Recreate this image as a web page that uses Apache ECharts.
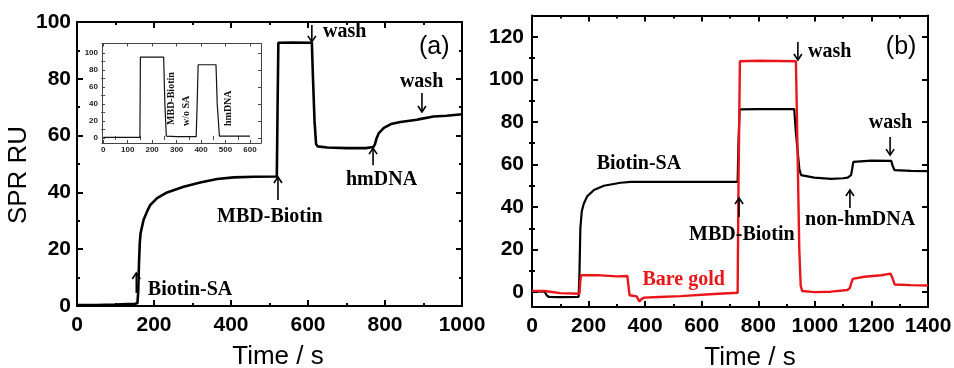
<!DOCTYPE html>
<html><head><meta charset="utf-8">
<script src="https://cdn.jsdelivr.net/npm/echarts@6/dist/echarts.min.js"></script>
<style>html,body{margin:0;padding:0;background:#fff}#c{width:954px;height:368px}</style>
</head><body><div id="c"></div>
<script>
// ---------- data ----------
// Panel (a): main sensorgram
const aTime   = [0,50,100,150,157,159,161,163,165,169,173,182,190,208,234,277,320,364,407,460,519,521,523,560,610,613,617,621,625,650,700,750,770,774,778,784,797,818,840,883,890,895,926,960,1000];
const aSignal = [0.3,0.3,0.5,0.8,1.0,5,15,22,25.5,28,30.4,33.3,35.5,38,40,42,43.5,44.7,45.3,45.5,45.6,70,92.7,92.8,92.7,80,65,57,56.2,55.8,55.6,55.6,56,57,59,60.9,62.7,64.2,64.8,65.6,65.8,66.3,66.7,67,67.5];
// Panel (a) inset: MBD-Biotin w/o SA, hmDNA
const insetTime   = [0,150,152,247,252,258,300,380,384,388,461,466,475,600];
const insetSignal = [0.5,0.5,95,95,40,2,1.5,1.5,40,86,86,40,2,2];
// Panel (b): Biotin-SA surface (black)
const bTimeSA = [0,45,52,60,100,165,168,171,176,183,195,219,254,313,349,500,727,730,734,800,927,933,945,951,998,1057,1100,1116,1128,1132,1136,1200,1270,1276,1282,1340,1400];
const bSA     = [0.3,0.2,-1.5,-2.3,-2.4,-2.2,10,30,38,41.5,45,48,50,51.4,51.8,51.8,51.8,70,85.9,86,86,75,58,55,53.8,53.2,53.5,53.8,55,58,61.2,61.8,61.7,59,57.3,57,56.9];
// Panel (b): bare gold (red)
const bTimeGold = [0,45,50,100,168,170,173,230,236,300,337,341,345,370,380,385,396,450,526,644,727,730,735,800,933,937,945,950,955,998,1057,1116,1124,1128,1134,1175,1235,1268,1272,1276,1282,1340,1400];
const bGold     = [0.6,0.5,-0.3,-0.5,-0.8,4,7.9,8,7.4,7.4,7.6,3,-1.5,-2,-4.5,-3.5,-2.6,-2.3,-1.9,-0.9,-0.3,50,108.5,108.7,108.5,80,20,3,0.5,0,0.2,1.0,2,4,6.2,7.2,7.9,8.7,8,6,3.6,3.3,3.1];
// tick values
const bYTicks = [0,20,40,60,80,100,120];
const bYMinor = [10,30,50,70,90,110];
const insetXTicks = [0,100,200,300,400,500,600];
const insetXMinor = [50,150,250,350,450,550];
const insetYTicks = [0,20,40,60,80,100];
const insetYMinor = [10,30,50,70,90];
// annotations (data coordinates)
const notesA = [
  {text:'wash', x:639, y:96.5, align:'left'},
  {text:'(a)', x:928, y:91.2, sans:true},
  {text:'wash', x:895, y:78.9},
  {text:'hmDNA', x:791, y:44.4},
  {text:'MBD-Biotin', x:501, y:31.3},
  {text:'Biotin-SA', x:184, y:5.6, align:'left'}
];
const arrowsA = [
  {x:610, tail:98.9, tip:93},
  {x:896, tail:75, tip:68.3},
  {x:769, tail:49.6, tip:55.6},
  {x:522, tail:37.3, tip:45.4},
  {x:154, tail:4.6, tip:11.6}
];
const notesB = [
  {text:'wash', x:976, y:112.8, align:'left'},
  {text:'(b)', x:1305, y:115.2, sans:true},
  {text:'wash', x:1267, y:79.5},
  {text:'Biotin-SA', x:378, y:60.2},
  {text:'non-hmDNA', x:1160, y:33.9},
  {text:'MBD-Biotin', x:742, y:26.8},
  {text:'Bare gold', x:536, y:5.7, red:true}
];
const arrowsB = [
  {x:940, tail:117.5, tip:109.1},
  {x:1266, tail:72.9, tip:64.4},
  {x:1124, tail:39.5, tip:48},
  {x:732, tail:35.3, tip:44.2}
];
const notesInset = [
  {text:'MBD-Biotin', x:280, y:15.2},
  {text:'w/o SA', x:341, y:14},
  {text:'hmDNA', x:511, y:14}
];

// ---------- chart ----------
const RED = '#e8161b';
const zip = (xs, ys) => xs.map((x, i) => [x, ys[i]]);
const plain = v => String(v);
const lab = {fontFamily:'Liberation Sans', fontWeight:'bold', fontSize:21, color:'#000', formatter:plain};
const inLab = {fontFamily:'Liberation Sans', fontWeight:'bold', fontSize:8, color:'#222', formatter:plain};
const nameStyle = {fontFamily:'Liberation Sans', fontSize:26, color:'#000'};
function mainAxis(o) {
  return Object.assign({
    type:'value', splitLine:{show:false},
    axisLine:{show:true, onZero:false, lineStyle:{color:'#000', width:2}},
    axisTick:{show:true, inside:true, length:6, lineStyle:{color:'#000', width:2}},
    minorTick:{show:true, splitNumber:2, length:3, lineStyle:{color:'#000', width:2}},
    axisLabel:{show:false}
  }, o);
}
function custAxis(o, ticks, len, w, color, showLabels, labStyle, margin) {
  return Object.assign({
    type:'value', splitLine:{show:false},
    axisLine:{show:true, onZero:false, lineStyle:{color:color, width:w}},
    axisTick:{show:true, inside:true, length:len, customValues:ticks, lineStyle:{color:color, width:w}},
    axisLabel: showLabels ? Object.assign({show:true, customValues:ticks, margin:margin}, labStyle) : {show:false}
  }, o);
}

const option = {
  animation:false,
  backgroundColor:'#fff',
  grid:[
    {left:77, top:22, width:385, height:284, outerBoundsMode:'none', containLabel:false},
    {left:102, top:43.5, width:159, height:99.5, outerBoundsMode:'none', containLabel:false},
    {left:532, top:15.5, width:396, height:291.5, outerBoundsMode:'none', containLabel:false}
  ],
  xAxis:[
    mainAxis({gridIndex:0, position:'bottom', min:0, max:1000, interval:200,
      axisLabel:Object.assign({show:true, margin:9}, lab),
      name:'Time / s', nameLocation:'middle', nameGap:38, nameTextStyle:Object.assign({padding:[0,0,0,17]}, nameStyle)}),
    mainAxis({gridIndex:0, position:'top', min:0, max:1000, interval:200}),
    custAxis({gridIndex:1, position:'bottom', min:-5, max:645}, insetXTicks, 3, 1, '#444', true, inLab, 3),
    custAxis({gridIndex:1, position:'top', min:-5, max:645}, insetXTicks, 3, 1, '#444', false),
    custAxis({gridIndex:1, position:'bottom', min:-5, max:645, axisLine:{show:false}}, insetXMinor, 2, 1, '#444', false),
    custAxis({gridIndex:1, position:'top', min:-5, max:645, axisLine:{show:false}}, insetXMinor, 2, 1, '#444', false),
    mainAxis({gridIndex:2, position:'bottom', min:0, max:1400, interval:200,
      axisLabel:Object.assign({show:true, margin:9}, lab),
      name:'Time / s', nameLocation:'middle', nameGap:38, nameTextStyle:Object.assign({padding:[0,0,0,40]}, nameStyle)}),
    mainAxis({gridIndex:2, position:'top', min:0, max:1400, interval:200})
  ],
  yAxis:[
    mainAxis({gridIndex:0, position:'left', min:0, max:100, interval:20,
      axisLabel:Object.assign({show:true, margin:6}, lab),
      name:'SPR RU', nameLocation:'middle', nameGap:34, nameTextStyle:Object.assign({padding:[0,22,0,0]}, nameStyle)}),
    mainAxis({gridIndex:0, position:'right', min:0, max:100, interval:20}),
    custAxis({gridIndex:1, position:'left', min:-6, max:111}, insetYTicks, 3, 1, '#444', true, inLab, 4),
    custAxis({gridIndex:1, position:'right', min:-6, max:111}, insetYTicks, 3, 1, '#444', false),
    custAxis({gridIndex:1, position:'left', min:-6, max:111, axisLine:{show:false}}, insetYMinor, 2, 1, '#444', false),
    custAxis({gridIndex:1, position:'right', min:-6, max:111, axisLine:{show:false}}, insetYMinor, 2, 1, '#444', false),
    custAxis({gridIndex:2, position:'left', min:-7, max:130}, bYTicks, 6, 2, '#000', true, lab, 8),
    custAxis({gridIndex:2, position:'right', min:-7, max:130}, bYTicks, 6, 2, '#000', false),
    custAxis({gridIndex:2, position:'left', min:-7, max:130, axisLine:{show:false}}, bYMinor, 3, 2, '#000', false),
    custAxis({gridIndex:2, position:'right', min:-7, max:130, axisLine:{show:false}}, bYMinor, 3, 2, '#000', false)
  ],
  series:[
    {type:'line', xAxisIndex:0, yAxisIndex:0, data:zip(aTime, aSignal), showSymbol:false, smooth:false,
      lineStyle:{color:'#000', width:2.6}, z:3},
    {type:'line', xAxisIndex:2, yAxisIndex:2, data:zip(insetTime, insetSignal), showSymbol:false,
      lineStyle:{color:'#111', width:1.2}, z:3},
    {type:'line', xAxisIndex:6, yAxisIndex:6, data:zip(bTimeSA, bSA), showSymbol:false,
      lineStyle:{color:'#000', width:2.2}, z:3},
    {type:'line', xAxisIndex:6, yAxisIndex:6, data:zip(bTimeGold, bGold), showSymbol:false,
      lineStyle:{color:RED, width:2.4}, z:4}
  ]
};

const chart = echarts.init(document.getElementById('c'), null, {renderer:'canvas'});
chart.setOption(option);

function px(axes, x, y) { return chart.convertToPixel(axes, [x, y]); }
const graphics = [];
function addNotes(notes, axes) {
  notes.forEach(n => {
    const p = px(axes, n.x, n.y);
    graphics.push({type:'text', x:p[0], y:p[1], z:10, style:{
      text:n.text,
      font: n.sans ? '25px "Liberation Sans"' : 'bold 20px "Liberation Serif"',
      fill: n.red ? RED : '#000',
      align:n.align || 'center', verticalAlign:'middle',
      textAlign:n.align || 'center', textVerticalAlign:'middle'}});
  });
}
function addArrows(arrows, axes) {
  arrows.forEach(a => {
    const t = px(axes, a.x, a.tail), h = px(axes, a.x, a.tip);
    const dir = h[1] < t[1] ? 1 : -1; // 1 => pointing up
    graphics.push({type:'line', z:10, shape:{x1:t[0], y1:t[1], x2:h[0], y2:h[1]}, style:{stroke:'#000', lineWidth:1.6}});
    graphics.push({type:'polyline', z:10, shape:{points:[[h[0]-4, h[1]+dir*6],[h[0], h[1]],[h[0]+4, h[1]+dir*6]]},
      style:{stroke:'#000', lineWidth:1.6, fill:null}});
  });
}
addNotes(notesA, {xAxisIndex:0, yAxisIndex:0});
addArrows(arrowsA, {xAxisIndex:0, yAxisIndex:0});
addNotes(notesB, {xAxisIndex:6, yAxisIndex:6});
addArrows(arrowsB, {xAxisIndex:6, yAxisIndex:6});
notesInset.forEach(n => {
  const p = px({xAxisIndex:2, yAxisIndex:2}, n.x, n.y);
  graphics.push({type:'text', x:p[0], y:p[1], rotation:Math.PI/2, z:10, style:{
    text:n.text, font:'bold 10px "Liberation Serif"', fill:'#111',
    align:'left', verticalAlign:'middle', textAlign:'left', textVerticalAlign:'middle'}});
});
chart.setOption({graphic:{elements:graphics}});
</script>
</body></html>
